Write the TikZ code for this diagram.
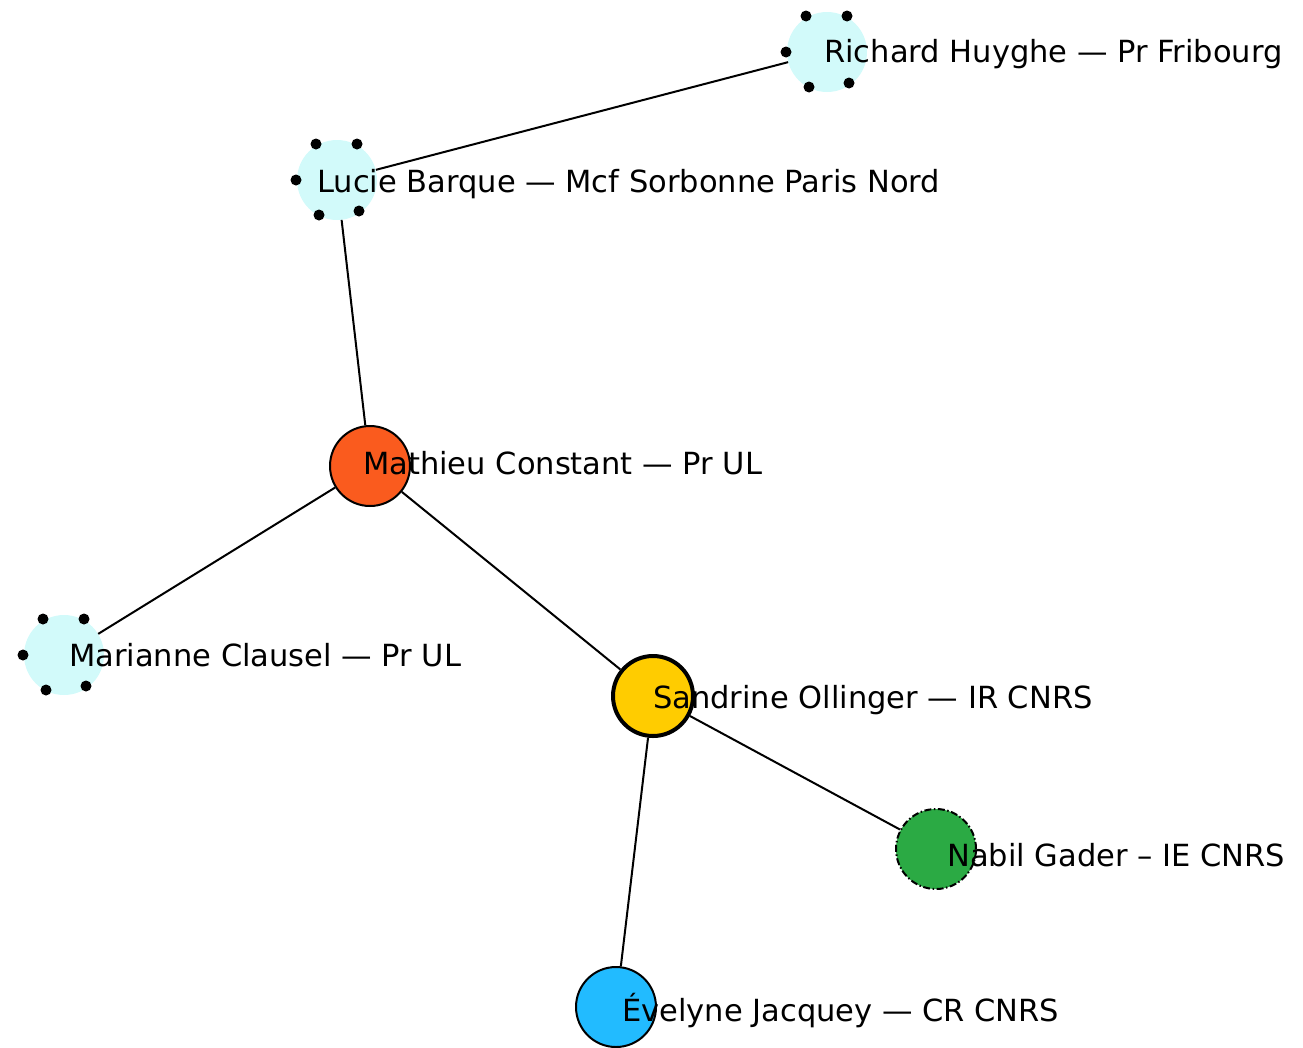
\documentclass[tikz,border=0pt]{standalone}
\usepackage{fontspec}
\setmainfont{DejaVu Sans}
\usetikzlibrary{calc}
\definecolor{lcyan}{HTML}{D2FAFA}
\definecolor{orng}{HTML}{FA5B1E}
\definecolor{ylw}{HTML}{FFCC00}
\definecolor{grn}{HTML}{2BAA44}
\definecolor{blu}{HTML}{22BBFF}
\begin{document}
\begin{tikzpicture}[x=1pt,y=-1pt,
  person/.style={circle,minimum size=80pt,inner sep=0pt},
  ghost/.style={person,fill=lcyan},
  plain/.style={person,draw=black,line width=2pt},
  lbl/.style={anchor=base west,inner sep=0pt,font=\fontsize{30.5}{32}\selectfont},
  link/.style={line width=2pt},
  dotmark/.style={fill=black}]
\useasboundingbox (0,0) rectangle (1303,1047);
% nodes
\node[ghost] (rh) at (827,52) {};
\node[ghost] (lb) at (337,180) {};
\node[plain,fill=orng] (mc) at (370,466) {};
\node[ghost] (mcl) at (64,655) {};
\node[person,fill=ylw,draw=black,line width=4pt] (so) at (653,696) {};
\node[plain,fill=grn,dash pattern=on 7pt off 2.5pt on 1.5pt off 2.5pt] (ng) at (936,849) {};
\node[plain,fill=blu] (ej) at (616,1007) {};
% edges
\draw[link] (rh) -- (lb);
\draw[link] (lb) -- (mc);
\draw[link] (mc) -- (mcl);
\draw[link] (mc) -- (so);
\draw[link] (so) -- (ng);
\draw[link] (so) -- (ej);
% dots on ghost nodes
\foreach \n in {rh,lb,mcl}{
  \foreach \dx/\dy in {-21/-36,20/-36,-41/0,-18/35,22/31}{
    \fill[dotmark] ($(\n.center)+(\dx,\dy)$) circle (5.5pt);
  }
}
% labels
\node[lbl] (rhl) at (824,62) {Richard Huyghe — Pr Fribourg};
\node[lbl] (lbl) at (317,192) {Lucie Barque — Mcf Sorbonne Paris Nord};
\node[lbl] (mcll) at (363,474) {Mathieu Constant — Pr UL};
\node[lbl] (mcl2) at (69,666) {Marianne Clausel — Pr UL};
\node[lbl] (sol) at (653,708) {Sandrine Ollinger — IR CNRS};
\node[lbl] (ngl) at (947,866) {Nabil Gader – IE CNRS};
\node[lbl] (ejl) at (622,1021) {Évelyne Jacquey — CR CNRS};
\end{tikzpicture}
\end{document}
